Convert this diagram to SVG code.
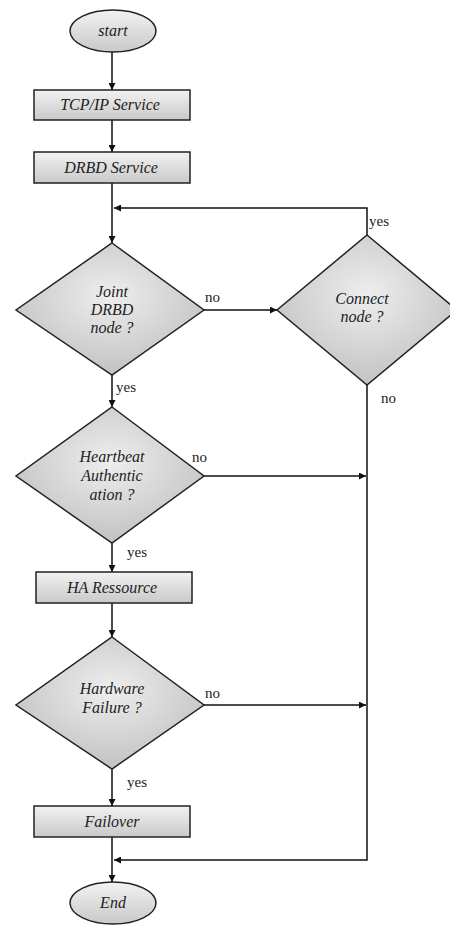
<svg xmlns="http://www.w3.org/2000/svg" width="450" height="925" viewBox="0 0 450 925">
<defs>
<linearGradient id="gBox" x1="0" y1="0" x2="0" y2="1">
<stop offset="0" stop-color="#f2f2f2"/>
<stop offset="1" stop-color="#c9c9c9"/>
</linearGradient>
<radialGradient id="gDia" cx="0.5" cy="0.4" r="0.6">
<stop offset="0" stop-color="#eeeeee"/>
<stop offset="1" stop-color="#c2c2c2"/>
</radialGradient>
<marker id="arr" viewBox="0 0 10 10" refX="10" refY="5" markerWidth="7" markerHeight="7" orient="auto" markerUnits="userSpaceOnUse">
<path d="M0,0 L10,5 L0,10 z" fill="#111"/>
</marker>
</defs>
<style>
.shape{stroke:#222;stroke-width:1.5}
.box{fill:url(#gBox)}
.dia{fill:url(#gDia)}
.t{font-family:"Liberation Serif","Times New Roman",serif;font-style:italic;font-size:16px;fill:#222;text-anchor:middle}
.lbl{font-family:"Liberation Serif","Times New Roman",serif;font-size:15px;fill:#222}
.c{fill:none;stroke:#111;stroke-width:1.5}
</style>
<rect width="450" height="925" fill="#fff"/>
<g id="connectors">
<line class="c" x1="112" y1="52" x2="112" y2="90" marker-end="url(#arr)"/>
<line class="c" x1="112" y1="120" x2="112" y2="152" marker-end="url(#arr)"/>
<line class="c" x1="112" y1="183" x2="112" y2="243" marker-end="url(#arr)"/>
<polyline class="c" points="367,235 367,208 114,208" marker-end="url(#arr)"/>
<line class="c" x1="204" y1="310" x2="277" y2="310" marker-end="url(#arr)"/>
<line class="c" x1="112" y1="375" x2="112" y2="407" marker-end="url(#arr)"/>
<line class="c" x1="204" y1="476" x2="366" y2="476" marker-end="url(#arr)"/>
<line class="c" x1="112" y1="543" x2="112" y2="572" marker-end="url(#arr)"/>
<line class="c" x1="112" y1="603" x2="112" y2="637" marker-end="url(#arr)"/>
<line class="c" x1="204" y1="705" x2="366" y2="705" marker-end="url(#arr)"/>
<line class="c" x1="112" y1="769" x2="112" y2="806" marker-end="url(#arr)"/>
<polyline class="c" points="367,385 367,860 114,860" marker-end="url(#arr)"/>
<line class="c" x1="112" y1="837" x2="112" y2="882" marker-end="url(#arr)"/>
<text class="lbl" x="205" y="302">no</text>
<text class="lbl" x="369" y="226">yes</text>
<text class="lbl" x="381" y="403">no</text>
<text class="lbl" x="116" y="392">yes</text>
<text class="lbl" x="192" y="462">no</text>
<text class="lbl" x="127" y="557">yes</text>
<text class="lbl" x="205" y="698">no</text>
<text class="lbl" x="127" y="787">yes</text>
</g>
<g id="start">
<ellipse class="shape box" cx="113" cy="31" rx="43" ry="21"/>
<text class="t" x="113" y="36">start</text>
</g>
<g id="tcpip">
<rect class="shape box" x="34" y="90" width="156" height="30"/>
<text class="t" x="110" y="110">TCP/IP Service</text>
</g>
<g id="drbd">
<rect class="shape box" x="34" y="152" width="156" height="31"/>
<text class="t" x="111" y="173">DRBD Service</text>
</g>
<g id="joint">
<polygon class="shape dia" points="112,243 204,310 112,375 16,310"/>
<text class="t" x="112" y="297">Joint</text>
<text class="t" x="112" y="315">DRBD</text>
<text class="t" x="112" y="333">node ?</text>
</g>
<g id="connect">
<polygon class="shape dia" points="367,235 457,310 367,385 277,310"/>
<text class="t" x="362" y="304">Connect</text>
<text class="t" x="362" y="322">node ?</text>
</g>
<g id="heartbeat">
<polygon class="shape dia" points="112,407 204,476 112,543 16,476"/>
<text class="t" x="112" y="462">Heartbeat</text>
<text class="t" x="112" y="481">Authentic</text>
<text class="t" x="112" y="500">ation ?</text>
</g>
<g id="ha">
<rect class="shape box" x="36" y="572" width="156" height="31"/>
<text class="t" x="112" y="593">HA Ressource</text>
</g>
<g id="hardware">
<polygon class="shape dia" points="112,637 204,705 112,769 16,705"/>
<text class="t" x="112" y="694">Hardware</text>
<text class="t" x="112" y="713">Failure ?</text>
</g>
<g id="failover">
<rect class="shape box" x="34" y="806" width="156" height="31"/>
<text class="t" x="112" y="827">Failover</text>
</g>
<g id="end">
<ellipse class="shape box" cx="113" cy="903" rx="43" ry="21"/>
<text class="t" x="113" y="908">End</text>
</g>
</svg>
